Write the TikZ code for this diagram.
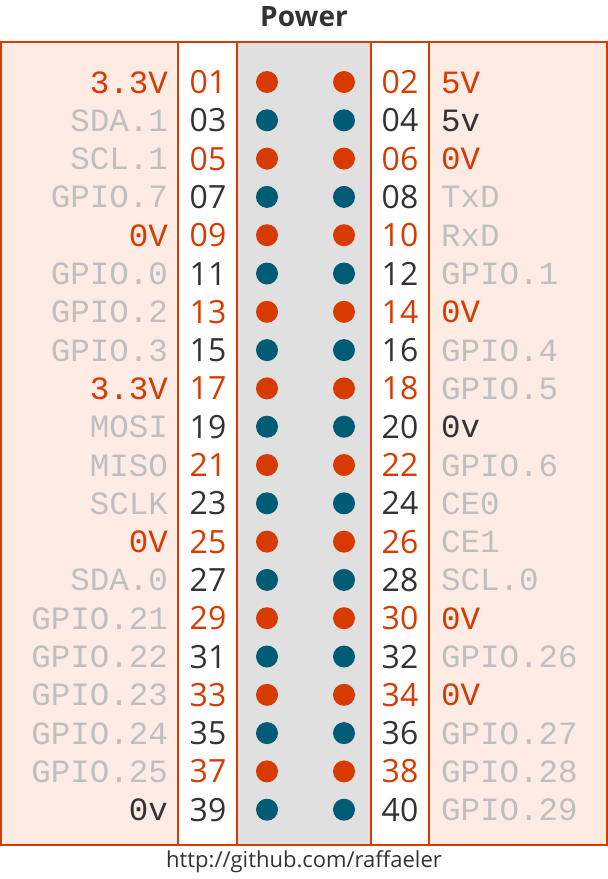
\documentclass[tikz,border=0pt]{standalone}
\usepackage{fontspec}
\setmainfont{Open Sans}
\newfontfamily\pinfont{Open Sans}
\newfontfamily\labelfont{Liberation Mono}
\usepackage{xcolor}
\usetikzlibrary{positioning}
\definecolor{pinred}{HTML}{D83B01}
\definecolor{pinteal}{HTML}{005B74}
\definecolor{pingray}{HTML}{BFBFBF}
\definecolor{pindark}{HTML}{333333}
\definecolor{sidefill}{HTML}{FDEBE4}
\definecolor{midgray}{HTML}{E0E0E0}

\begin{document}
\begin{tikzpicture}[
    x=1pt, y=-1pt,
    % Column styles
    column/.style={draw=pinred, line width=2pt},
    % Node styles
    pinnum/.style={inner sep=0pt, anchor=base, font=\pinfont\fontsize{32}{38}\selectfont},
    pinlabel/.style={inner sep=0pt, font=\labelfont\fontsize{32.5}{38}\selectfont},
    pindot/.style={circle, inner sep=0pt, minimum size=22pt},
]
\useasboundingbox (0,0) rectangle (608,879);

% Header columns
\draw[column, fill=sidefill] (1,42) rectangle (178,845);
\draw[column, fill=white] (178,42) rectangle (237,845);
\draw[column, fill=midgray] (237,42) rectangle (371,845);
\draw[column, fill=white] (371,42) rectangle (429,845);
\draw[column, fill=sidefill] (429,42) rectangle (607,845);

% Title and footer
\node[font=\bfseries\fontsize{28}{34}\selectfont, text=pindark] (title) at (304,17) {Power};
\node[font=\fontsize{22}{26}\selectfont, text=pindark] (footer) at (304,862) {http://github.com/raffaeler};

% Pin rows
\foreach \lname/\lcol/\rname/\rcol [count=\i from 0] in {
    3.3V/pinred/5V/pinred, SDA.1/pingray/5v/pindark, SCL.1/pingray/0V/pinred,
    GPIO.7/pingray/TxD/pingray, 0V/pinred/RxD/pingray, GPIO.0/pingray/GPIO.1/pingray,
    GPIO.2/pingray/0V/pinred, GPIO.3/pingray/GPIO.4/pingray, 3.3V/pinred/GPIO.5/pingray,
    MOSI/pingray/0v/pindark, MISO/pingray/GPIO.6/pingray, SCLK/pingray/CE0/pingray,
    0V/pinred/CE1/pingray, SDA.0/pingray/SCL.0/pingray, GPIO.21/pingray/0V/pinred,
    GPIO.22/pingray/GPIO.26/pingray, GPIO.23/pingray/0V/pinred, GPIO.24/pingray/GPIO.27/pingray,
    GPIO.25/pingray/GPIO.28/pingray, 0v/pindark/GPIO.29/pingray} {
    \pgfmathsetmacro\yy{82+38.3*\i}
    \pgfmathtruncatemacro\nl{2*\i+1}
    \pgfmathtruncatemacro\nr{2*\i+2}
    \ifodd\i \def\numcol{pindark}\def\dotcol{pinteal}\else \def\numcol{pinred}\def\dotcol{pinred}\fi
    \node[pinlabel, anchor=base east, text=\lcol] (labL\i) at (168,{\yy+11}) {\lname};
    \node[pinnum, text=\numcol] (pinL\i) at (208,{\yy+11.5}) {\ifnum\nl<10 0\fi\nl};
    \node[pindot, fill=\dotcol] (dotL\i) at (267,\yy) {};
    \node[pindot, fill=\dotcol] (dotR\i) at (344,\yy) {};
    \node[pinnum, text=\numcol] (pinR\i) at (400,{\yy+11.5}) {\ifnum\nr<10 0\fi\nr};
    \node[pinlabel, anchor=base west, text=\rcol] (labR\i) at (441,{\yy+11}) {\rname};
}

\end{tikzpicture}
\end{document}
